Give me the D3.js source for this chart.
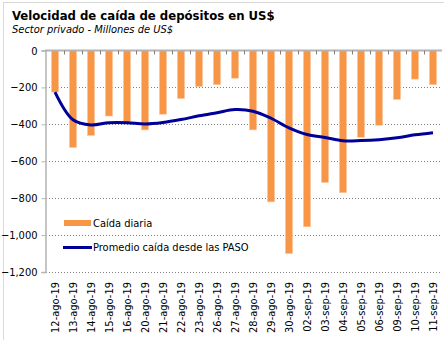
<!DOCTYPE html>
<html>
<head>
<meta charset="utf-8">
<script src="https://cdn.jsdelivr.net/npm/d3@7"></script>
<style>
  body { margin: 0; background: #fff; }
  svg { display: block; }
  text { font-family: "DejaVu Sans Condensed", "DejaVu Sans", sans-serif; }
</style>
</head>
<body>
<div class="chart"></div>
<script>
// data
const dates = ['12-ago-19', '13-ago-19', '14-ago-19', '15-ago-19', '16-ago-19', '20-ago-19',
    '21-ago-19', '22-ago-19', '23-ago-19', '26-ago-19', '27-ago-19', '28-ago-19', '29-ago-19',
    '30-ago-19', '02-sep-19', '03-sep-19', '04-sep-19', '05-sep-19', '06-sep-19', '09-sep-19',
    '10-sep-19', '11-sep-19'];
const caidaDiaria = [-225, -525, -460, -355, -390, -430, -345, -260, -195, -185, -150, -430,
    -820, -1100, -955, -715, -770, -470, -405, -265, -155, -185];
const promedio = [-225, -375, -403, -391, -391, -398, -390, -374, -354, -337, -320, -329,
    -367, -419, -455, -471, -489, -488, -483, -473, -457, -445];
const yTicks = [0, -200, -400, -600, -800, -1000, -1200];

const width = 444;
const height = 340;

const svg = d3.select('.chart')
    .append('svg')
    .attr('width', width)
    .attr('height', height);

// outer chart border
svg.append('rect')
    .attr('x', 3.5).attr('y', 2.5)
    .attr('width', width).attr('height', height)
    .attr('fill', 'none')
    .attr('stroke', '#d9d9d9');

// titles
svg.append('text')
    .attr('x', 12).attr('y', 20)
    .attr('font-size', 13)
    .attr('font-weight', 'bold')
    .attr('fill', '#000')
    .text('Velocidad de caída de depósitos en US$');
svg.append('text')
    .attr('x', 12).attr('y', 33)
    .attr('font-size', 11)
    .attr('font-style', 'italic')
    .attr('fill', '#000')
    .text('Sector privado - Millones de US$');

const x = d3.scaleBand()
    .domain(dates)
    .range([46, 442])
    .paddingInner(0.61)
    .paddingOuter(0.305);

const y = d3.scaleLinear()
    .domain([-1200, 0])
    .range([272, 50.5]);

// dotted gridlines
svg.append('g')
    .selectAll('line')
    .data(yTicks.filter(d => d !== 0))
    .join('line')
    .attr('x1', 46).attr('x2', 442)
    .attr('y1', d => Math.round(y(d)) + 0.5)
    .attr('y2', d => Math.round(y(d)) + 0.5)
    .attr('stroke', '#808080')
    .attr('stroke-dasharray', '1,2');

// y axis
const yAxis = svg.append('g')
    .attr('transform', 'translate(45.5,0)')
    .call(d3.axisLeft(y).tickValues(yTicks).tickFormat(d3.format(',')).tickSize(4).tickPadding(4));
yAxis.select('.domain').attr('stroke', '#b3b3b3').attr('stroke-width', 1.5);
yAxis.selectAll('.tick line').attr('stroke', '#b3b3b3');
yAxis.selectAll('.tick text').attr('font-size', 11).attr('fill', '#000')
    .attr('font-family', '"DejaVu Sans Condensed", "DejaVu Sans", sans-serif');

// bars
svg.append('g')
    .selectAll('rect')
    .data(caidaDiaria)
    .join('rect')
    .attr('x', (d, i) => x(dates[i]))
    .attr('y', y(0))
    .attr('width', x.bandwidth())
    .attr('height', d => y(d) - y(0))
    .attr('fill', '#f79646')
    .attr('stroke', '#fbc49a')
    .attr('stroke-width', 0.6);

// x axis line at zero with ticks between categories
svg.append('line')
    .attr('x1', 45).attr('x2', 442)
    .attr('y1', y(0)).attr('y2', y(0))
    .attr('stroke', '#b3b3b3')
    .attr('stroke-width', 2);
svg.append('g')
    .selectAll('line')
    .data(dates.slice(1))
    .join('line')
    .attr('x1', d => Math.round(x(d) - x.step() * x.paddingInner() / 2) + 0.5)
    .attr('x2', d => Math.round(x(d) - x.step() * x.paddingInner() / 2) + 0.5)
    .attr('y1', y(0))
    .attr('y2', y(0) + 4)
    .attr('stroke', '#808080');

// x labels
const xAxis = svg.append('g')
    .attr('transform', `translate(0,${y(-1200) + 6})`)
    .call(d3.axisBottom(x).tickSize(0).tickPadding(0));
xAxis.select('.domain').remove();
xAxis.selectAll('.tick text')
    .attr('font-size', 11)
    .attr('fill', '#000')
    .attr('font-family', '"DejaVu Sans Condensed", "DejaVu Sans", sans-serif')
    .attr('transform', 'rotate(-90)')
    .attr('text-anchor', 'end')
    .attr('dy', '0.35em')
    .attr('x', -4)
    .attr('y', 0);

// average line
const line = d3.line()
    .x((d, i) => x(dates[i]) + x.bandwidth() / 2)
    .y(d => y(d))
    .curve(d3.curveCatmullRom);

svg.append('path')
    .datum(promedio)
    .attr('d', line)
    .attr('fill', 'none')
    .attr('stroke', '#000099')
    .attr('stroke-width', 3)
    .attr('stroke-linejoin', 'round');

// legend
const legend = svg.append('g');
legend.append('rect')
    .attr('x', 64).attr('y', 220)
    .attr('width', 27).attr('height', 6)
    .attr('fill', '#f79646');
legend.append('text')
    .attr('x', 93).attr('y', 227)
    .attr('font-size', 11)
    .text('Caída diaria');
legend.append('line')
    .attr('x1', 63).attr('x2', 92)
    .attr('y1', 247.5).attr('y2', 247.5)
    .attr('stroke', '#000099')
    .attr('stroke-width', 3);
legend.append('text')
    .attr('x', 93).attr('y', 251)
    .attr('font-size', 11)
    .text('Promedio caída desde las PASO');
</script>
</body>
</html>
